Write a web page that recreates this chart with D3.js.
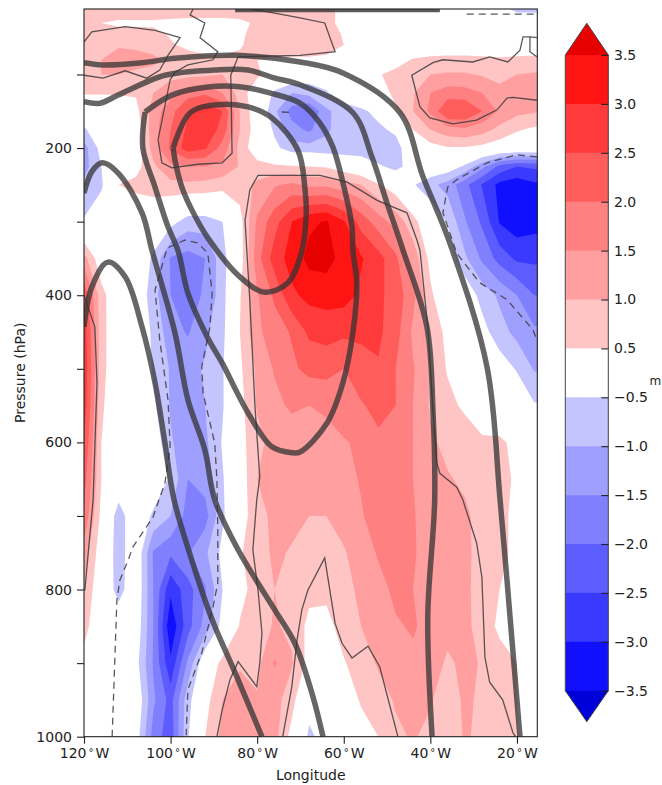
<!DOCTYPE html>
<html>
<head>
<meta charset="utf-8">
<script src="https://cdn.jsdelivr.net/npm/d3@7"></script>
<style>
  html, body { margin: 0; padding: 0; background: #fff; }
  svg { display: block; }
  text { font-family: "DejaVu Sans", sans-serif; fill: #222; }
</style>
</head>
<body>
<svg id="chartSVG"></svg>
<script>
// longitude (deg W) of each grid column
let lons = d3.range(120, 15, -4);
// pressure (hPa) of each grid row
let levels = [10, 30, 45, 60, 80, 100, 125, 150, 175, 200, 225, 250, 300, 350, 400, 450, 500, 550, 600, 650, 700, 750, 800, 850, 900, 950, 1000];

// height anomaly (m), one row per pressure level
let anomaly = [
  [.9,.9,.9,.9,.9,.9,.9,.9,.9,.9,.8,.8,.8,.8,.6,.4,.3,.2,.1,.1,.1,0,0,-.1,-.3,-.7,-.7],
  [.7,.5,.4,.4,.4,.35,.3,.3,.3,.35,.6,.6,.55,.7,.7,.3,.1,0,0,0,0,0,0,0,0,0,0],
  [.8,.75,.7,.7,.65,.45,.35,.3,.3,.4,.7,.8,.85,.85,.75,.45,.2,0,0,0,0,0,0,0,0,0,0],
  [.9,.95,.95,.9,.8,.55,.4,.3,.3,.45,.7,.85,.9,.9,.8,.5,.2,0,0,0,0,0,0,0,0,0,0],
  [.8,1,1.2,1.2,1.1,.9,.7,.6,.6,.6,.5,.45,.4,.4,.35,.3,.2,0,.2,.55,.65,.7,.7,.65,.6,.65,.7],
  [.85,1,1,.9,.85,.85,.85,.9,1,.95,.6,.2,0,-.2,-.2,-.1,0,.45,.7,.85,1,1.05,1.05,.95,.9,1,1.05],
  [.55,.55,.55,.55,1,1.3,1.8,1.9,1.5,.8,.1,-.6,-1,-.8,-.55,-.2,0,.2,.65,.95,1.5,1.75,1.7,1.5,1.1,1.05,1.05],
  [0,0,.1,.35,1.2,1.85,2.45,2.9,2.5,1,.1,-.9,-1.7,-2.05,-1.1,-.75,-.6,-.35,.4,1,1.6,2.5,2.5,2,1.4,1.15,1.05],
  [-.6,0,0,.1,1.3,2,2.6,2.9,2.3,1,.2,-.6,-1.3,-1.6,-1.05,-.85,-.8,-.6,-.4,.5,1,1.3,1.4,1.2,.85,.55,.4],
  [-1.2,-.3,0,.1,1.2,2.1,2.75,2.55,1.8,.85,.1,-.35,-.8,-.8,-.9,-.9,-.9,-1,-.7,-.1,.3,.45,.45,.35,.2,.1,.1],
  [-1.2,-.5,0,.3,.9,1.4,1.5,1.5,1.4,.95,.7,.6,.55,.5,.45,.2,0,-.4,-.7,-.2,0,-.15,-.6,-1.35,-2.15,-2.5,-2.4],
  [-.9,-.6,.5,.65,.75,.85,.9,.85,.7,.75,1.1,1.45,1.6,1.4,1.4,1.2,1,.55,.2,-.45,-.85,-1.2,-1.85,-2.55,-3.15,-3.3,-3.1],
  [-.45,0,0,0,0,-.3,-.75,-.75,-.5,.3,1.6,2.3,3,3.4,3.55,3.05,2.3,1.75,1.3,.7,0,-.55,-1.45,-2.1,-3.05,-3.3,-3.2],
  [1.2,.1,0,0,-.6,-1.55,-1.7,-1.5,-.7,.2,1.8,2.75,3.2,3.65,3.7,3.3,3.05,2.7,2.1,1.3,.35,-.1,-.9,-1.6,-2.2,-2.6,-2.6],
  [2.4,.7,0,0,-.8,-1.5,-1.65,-1.45,-.7,.45,1.45,2.1,2.9,3.15,3.2,3.2,2.9,2.6,2.3,1.65,.6,0,-.1,-.7,-1.1,-1.5,-2],
  [2.8,.7,0,0,-.6,-1.3,-1.55,-1.1,-.65,.5,1.4,1.75,2.05,2.6,2.7,2.6,2.6,2.6,2.2,1.4,.85,.35,0,-.3,-.8,-1.15,-1.4],
  [2.9,.7,0,0,-.55,-1.05,-1.15,-.95,-.55,.4,1.1,1.55,1.9,2.15,2.15,2,2.3,2.45,2,1.55,.95,.45,.1,0,-.2,-.55,-1.05],
  [2.8,.6,0,0,-.4,-1.05,-1.2,-1,-.55,.3,1.05,1.35,1.6,1.5,1.65,1.85,1.95,2.15,2,1.5,.95,.65,.4,.1,0,0,-.45],
  [2.5,.5,0,0,-.1,-.95,-1.25,-1.1,-.45,.3,.85,1.2,1.15,1.2,1.2,1.45,1.6,1.9,1.75,1.5,1.1,.85,.8,.6,.6,.35,0],
  [2.2,.5,0,0,0,-.6,-1.5,-1.3,-.55,.15,1,1.1,1.15,1.1,1.1,1.3,1.55,1.85,1.8,1.5,1.1,1.05,.9,.8,.7,.4,0],
  [1.9,.35,-.8,0,-.6,-1,-1.7,-1.7,-.6,.2,.85,1.1,1.15,1,1,1.2,1.45,1.75,1.8,1.55,1.2,1.15,1.1,.8,.65,.35,0],
  [1.3,.15,-.8,0,-1.55,-1.9,-1.55,-1.1,-.35,.45,.75,1.1,.95,.75,.8,.95,1.25,1.55,1.7,1.55,1.3,1.2,1.15,.75,.6,.4,0],
  [.9,.1,-.75,0,-1.5,-2.9,-2.2,-1.55,-.5,.3,.75,1,.8,.65,.65,.85,1.1,1.35,1.6,1.5,1.3,1.2,1.15,.7,.5,.2,0],
  [.7,0,0,-.1,-1.5,-3.4,-2.2,-1.3,-.3,.55,.75,1.05,.9,.35,.3,.75,1,1.15,1.45,1.55,1.35,1.2,1.15,.75,.4,.1,0],
  [.3,0,0,-.3,-1.55,-2.9,-1.4,0,.65,.95,.85,1.55,1.05,.3,.1,.45,.8,1.05,1.35,1.4,1.3,.9,1.15,.95,.7,.5,0],
  [0,0,0,0,-1.4,-2.2,-.7,.3,1,1.2,1.05,1.2,.7,-.3,-.1,.2,.55,.8,1.05,1.2,1.05,.7,1.1,.9,.7,.5,0],
  [0,0,0,-.2,-1.7,-2.3,-.55,.5,1.15,1.2,1.1,1.2,.3,-.6,-.3,0,.3,.5,.9,1.05,.85,.7,1.05,.9,.7,.55,0]
];

let bandLimits = [.5, 1, 1.5, 2, 2.5, 3, 3.5];
let redBands = ['#ffc4c4', '#ff9f9f', '#ff8080', '#ff5c5c', '#ff3a3a', '#ff1414', '#e60000'];
let blueBands = ['#c4c4ff', '#9f9fff', '#8080ff', '#5c5cff', '#3a3aff', '#1010ff', '#0000d8'];
let colorbarTicks = [3.5, 3, 2.5, 2, 1.5, 1, .5, -.5, -1, -1.5, -2, -2.5, -3, -3.5];

let lonTicks = [120, 100, 80, 60, 40, 20];
let pressureTicks = [100, 200, 300, 400, 500, 600, 700, 800, 900, 1000];

// thick contours, [lon, hPa]
let thickLines = [
  [[99.4,200],[99,216],[97.4,253],[95.1,284],[91.4,322],[84,375],[78.2,396],[72.9,383],[69.9,345],[68.7,294],[69,253],[70.6,203],[76.6,159],[82.1,144],[89.1,141],[95.5,152],[99.4,200]],
  [[105.9,151],[99.7,128],[91.4,117],[83.5,117],[77.1,125],[70.1,139],[65.5,166],[62.5,199],[60.2,247],[58.1,307],[57.9,339],[57,383],[57.9,451],[60.2,519],[63.9,574],[70.1,613],[72,614],[76.6,606],[82.1,560],[88.1,492],[91.4,458],[96,397],[98.3,339],[100.6,307],[103.6,253],[106.4,200],[105.9,151]],
  [[120,137],[116.3,139],[112.1,128],[101.3,101],[89.8,94],[82.1,94],[75.9,105],[70.1,114],[57.9,152],[53.5,212],[50,275],[46.3,339],[40.8,443],[39.4,556],[39,678],[40.6,837],[39.6,1000]],
  [[120,84],[115.8,87],[106.6,84],[99,78],[85.1,74],[70.1,83],[60.2,98],[47,152],[41.7,239],[35.5,329],[26.9,498],[23.9,678],[21.6,837],[19.3,1000]],
  [[120,261],[118.2,232],[115.8,220],[112.1,234],[106.6,288],[104.3,339],[99,451],[96,542],[92.1,610],[89.8,678],[84.4,746],[75.9,828],[71.3,873],[67.1,946],[64.8,1000]],
  [[120,443],[118.2,389],[114.5,355],[110.5,375],[106.6,443],[103.6,519],[101.3,601],[99.2,678],[95.1,760],[90.4,841],[85.1,913],[78.9,1000]]
];
let topLine = [[85.1,12],[37.8,12]];

// thin solid contours
let thinLines = [
  [[120,56],[118.2,42],[110.5,35],[103.6,40],[97.8,50],[100.6,74],[102.5,94],[105.5,105],[110.5,95],[115.6,105],[120,101]],
  [[94.8,11],[95.5,19],[92.1,30],[93.2,50],[89.1,69],[90.2,80],[96,87],[99,97],[100.1,107],[102.9,189],[102,220],[99.7,227],[93.7,222],[88.1,220],[85.8,207],[86.1,101],[84.4,76],[70.1,74],[62,69],[64.4,30],[70.1,23],[76.6,16],[81.7,11]],
  [[15.4,135],[20.9,131],[22.3,132],[24.6,148],[29.3,162],[34.8,167],[40.1,159],[42.4,144],[44.3,101],[39.4,84],[37.1,80],[30.2,83],[26.3,76],[22.1,83],[19.3,67],[18.6,49],[17,49],[17,69],[15.4,76]],
  [[17,49],[15.4,50]],
  [[89.3,1000],[88.1,964],[86.3,923],[84.4,898],[80.1,932],[79.4,900],[78.9,859],[79.8,801],[81,746],[80.1,678],[79.4,647],[80.5,552],[81.7,407],[82.4,339],[82.8,298],[81.7,257],[79.8,237],[70.1,237],[65.5,237],[59.3,246],[52.3,271],[45.4,288],[43.1,325],[42.4,339],[40.6,443],[39.4,556],[38.5,628],[37.8,642],[33.9,661],[32.5,678],[29.3,737],[28.1,783],[27.4,892],[26.3,926],[23.3,950],[20.9,995],[20.3,1000]],
  [[74.1,1000],[72,932],[70.8,869],[69.7,828],[68.3,801],[64.4,757],[62,846],[60.4,873],[58.1,893],[54.4,877],[51.7,905],[47.5,1000]],
  [[120,400],[117.5,443],[117,519],[117.9,678],[119.8,801]]
];

// thin dashed contours
let dashedLines = [
  [[15.4,212],[20,209],[26.9,220],[33.9,243],[36,253],[37.1,288],[33.9,343],[28.6,383],[22.3,406],[16.3,447],[15.4,461]],
  [[113.5,1000],[112.8,882],[112.4,814],[111.7,787],[109.8,760],[108.7,742],[104.1,702],[101.3,655],[100.1,606],[100.6,542],[102.5,461],[103.6,393],[100.8,336],[96.7,325],[93.7,329],[91.4,343],[90.4,397],[90.9,443],[92.8,497],[92.5,533],[89.8,601],[89.3,651],[89.1,719],[89.1,791],[90.2,824],[92.8,886],[96,936],[96.4,998]],
  [[31.6,18],[15.4,18]],
  [[74.3,151],[71.7,152]]
];

let widthSVG = 662;
let heightSVG = 785;

let plot = { left: 84, right: 537.3, top: 9, bottom: 736.7 };
let bar = { left: 565.3, right: 608.3, top: 55, bottom: 690.7, tipTop: 23.3, tipBottom: 721.7 };

let SVG = d3.select('svg#chartSVG')
            .attr('width', widthSVG)
            .attr('height', heightSVG);

let x = d3.scaleLinear().domain([120, 15.3]).range([plot.left, plot.right]);
let y = d3.scaleLinear().domain([11, 1000]).range([plot.top, plot.bottom]);

SVG.append('clipPath').attr('id', 'plotClip')
   .append('rect')
   .attr('x', plot.left).attr('y', plot.top)
   .attr('width', plot.right - plot.left).attr('height', plot.bottom - plot.top);

let plotG = SVG.append('g').attr('clip-path', 'url(#plotClip)');

// pad the grid by one row and column so the filled bands run past the frame
let padLons = [124].concat(lons, [12]);
let padLevels = [0].concat(levels, [1050]);
let padRows = [anomaly[0]].concat(anomaly, [anomaly[anomaly.length - 1]]);
let flat = [];
padRows.forEach(row => {
  let r = [row[0]].concat(row, [row[row.length - 1]]);
  r.forEach(v => flat.push(v));
});

// d3.contours puts grid value i at coordinate i + 0.5
let lonAt = d3.scaleLinear().domain(padLons.map((d, i) => i + .5)).range(padLons);
let levelAt = d3.scaleLinear().domain(padLevels.map((d, i) => i + .5)).range(padLevels);

let gridPath = d3.geoPath(d3.geoTransform({
  point: function(cx, cy) {
    this.stream.point(x(lonAt(cx)), y(levelAt(cy)));
  }
}));

let contours = d3.contours()
                 .size([padLons.length, padLevels.length])
                 .thresholds(bandLimits);

function drawBands(values, colours, name) {
  plotG.append('g')
       .attr('class', name)
       .selectAll('path')
       .data(contours(values))
       .enter()
       .append('path')
       .attr('d', gridPath)
       .style('fill', (d, i) => colours[i]);
}

drawBands(flat, redBands, 'red-bands');
drawBands(flat.map(v => -v), blueBands, 'blue-bands');

let line = d3.line().x(d => x(d[0])).y(d => y(d[1]));
let smoothLine = d3.line().x(d => x(d[0])).y(d => y(d[1])).curve(d3.curveCatmullRom.alpha(.5));

plotG.append('g').selectAll('path')
     .data(thinLines)
     .enter().append('path')
     .attr('d', line)
     .style('fill', 'none')
     .style('stroke', '#3c3c3c')
     .style('stroke-width', 1.3)
     .style('stroke-opacity', .85);

plotG.append('g').selectAll('path')
     .data(dashedLines)
     .enter().append('path')
     .attr('d', line)
     .style('fill', 'none')
     .style('stroke', '#3c3c3c')
     .style('stroke-width', 1.3)
     .style('stroke-opacity', .85)
     .style('stroke-dasharray', '7,5');

plotG.append('g').selectAll('path')
     .data(thickLines)
     .enter().append('path')
     .attr('d', smoothLine)
     .style('fill', 'none')
     .style('stroke', '#333')
     .style('stroke-width', 5.5)
     .style('stroke-opacity', .75)
     .style('stroke-linejoin', 'round');

plotG.append('path')
     .datum(topLine)
     .attr('d', line)
     .style('fill', 'none')
     .style('stroke', '#333')
     .style('stroke-width', 5)
     .style('stroke-opacity', .8);

// frame
SVG.append('rect')
   .attr('x', plot.left).attr('y', plot.top)
   .attr('width', plot.right - plot.left).attr('height', plot.bottom - plot.top)
   .style('fill', 'none')
   .style('stroke', '#222')
   .style('stroke-width', 1.1);

// axes
let xAxis = SVG.append('g')
               .attr('transform', `translate(0, ${plot.bottom})`)
               .call(d3.axisBottom(x).tickValues(lonTicks).tickSize(7).tickPadding(4.5).tickFormat(''));

xAxis.selectAll('.tick text').each(function(d) {
  let t = d3.select(this);
  t.append('tspan').text(d);
  t.append('tspan').attr('dx', 2).attr('dy', -2).text('°');
  t.append('tspan').attr('dx', 2).attr('dy', 2).text('W');
});

let yAxis = SVG.append('g')
               .attr('transform', `translate(${plot.left}, 0)`)
               .call(d3.axisLeft(y).tickValues(pressureTicks).tickSize(7).tickPadding(5)
                       .tickFormat(d => d % 200 == 0 ? d : ''));

// colour bar, evenly spaced regardless of the white gap
let barY = d3.scalePoint().domain(colorbarTicks).range([bar.top, bar.bottom]);
let barG = SVG.append('g');
let barColours = redBands.slice(0, 6).reverse().concat(['#ffffff'], blueBands.slice(0, 6));

barG.selectAll('rect')
    .data(colorbarTicks.slice(0, -1))
    .enter().append('rect')
    .attr('x', bar.left)
    .attr('width', bar.right - bar.left)
    .attr('y', d => barY(d))
    .attr('height', barY.step() + .5)
    .style('fill', (d, i) => barColours[i]);

barG.append('path')
    .attr('d', `M${bar.left},${bar.top}L${(bar.left + bar.right) / 2},${bar.tipTop}L${bar.right},${bar.top}Z`)
    .style('fill', redBands[6]);
barG.append('path')
    .attr('d', `M${bar.left},${bar.bottom}L${(bar.left + bar.right) / 2},${bar.tipBottom}L${bar.right},${bar.bottom}Z`)
    .style('fill', blueBands[6]);
barG.append('path')
    .attr('d', `M${bar.left},${bar.top}L${(bar.left + bar.right) / 2},${bar.tipTop}L${bar.right},${bar.top}V${bar.bottom}L${(bar.left + bar.right) / 2},${bar.tipBottom}L${bar.left},${bar.bottom}Z`)
    .style('fill', 'none')
    .style('stroke', '#444')
    .style('stroke-width', 1);

let barAxis = SVG.append('g')
                 .attr('transform', `translate(${bar.right}, 0)`)
                 .call(d3.axisRight(barY).tickSize(-7).tickPadding(5.7)
                         .tickFormat(d => d3.format('.1f')(d).replace('-', '\u2212')));

[xAxis, yAxis, barAxis].forEach(a => {
  a.select('.domain').remove();
  a.selectAll('.tick line').style('stroke', '#222').style('stroke-width', 1.1);
  a.selectAll('text').style('font-family', '"DejaVu Sans", sans-serif').style('font-size', '14px').style('fill', '#222');
});
xAxis.selectAll('.tick text tspan:nth-child(2)').style('font-size', '10px');

SVG.append('text')
   .text('Longitude')
   .attr('x', 310.7).attr('y', 780)
   .style('text-anchor', 'middle')
   .style('font-size', '14px');

SVG.append('text')
   .text('Pressure (hPa)')
   .attr('transform', 'translate(25, 372.8) rotate(-90)')
   .style('text-anchor', 'middle')
   .style('font-size', '14px');

SVG.append('text')
   .text('m')
   .attr('x', 649.5).attr('y', 385)
   .style('font-size', '12px');
</script>
</body>
</html>
